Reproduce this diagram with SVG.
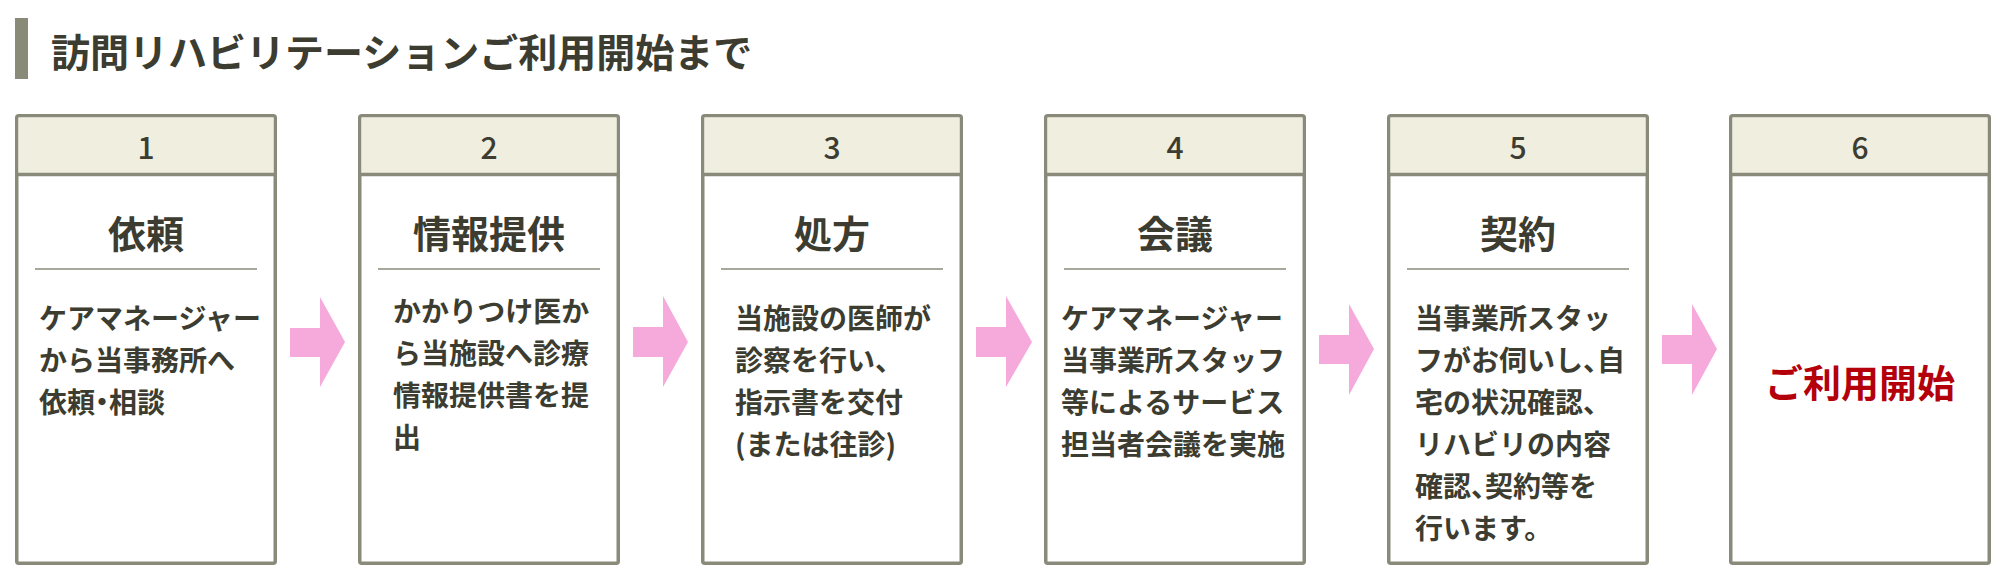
<svg xmlns="http://www.w3.org/2000/svg" width="2003" height="580" viewBox="0 0 2003 580">
<style>
.box{fill:#ffffff;stroke:#8a8a7b;stroke-width:3.5}
.hd{fill:#efeedf}
.hl{stroke:#8a8a7b;stroke-width:3.5}
.sep{stroke:#8a8a7b;stroke-width:1.5}
.num{font-family:"Noto Sans CJK JP","Noto Sans",sans-serif;font-weight:500;font-size:30px;fill:#3c3c30;text-anchor:middle}
.ttl{font-family:"Noto Sans CJK JP",sans-serif;font-weight:700;font-size:38px;fill:#3c3c30;text-anchor:middle}
.body{font-family:"Noto Sans CJK JP",sans-serif;font-weight:700;font-size:28px;fill:#3c3c30}
.red{font-family:"Noto Sans CJK JP",sans-serif;font-weight:700;font-size:38px;fill:#b3000a;text-anchor:middle}
.h{font-feature-settings:"halt"}
.arr{fill:#f6aadc}
</style>
<rect x="0" y="0" width="2003" height="580" fill="#ffffff"/>
<g id="title">
<rect x="15" y="18" width="13" height="61" fill="#8a8a78"/>
<text x="51" y="67" font-family="'Noto Sans CJK JP',sans-serif" font-weight="700" font-size="39" fill="#3c3c30">訪問リハビリテーションご利用開始まで</text>
</g>
<g id="connectors">
<polygon class="arr" points="290,328 320,328 320,297 345,342 320,387 320,357 290,357"/>
<polygon class="arr" points="633,327 663,327 663,296 688,342 663,387 663,357 633,357"/>
<polygon class="arr" points="976,327 1006,327 1006,296 1032,342 1006,387 1006,357 976,357"/>
<polygon class="arr" points="1319,335 1349,335 1349,304 1374,349 1349,395 1349,364 1319,364"/>
<polygon class="arr" points="1662,335 1692,335 1692,304 1717,349 1692,395 1692,364 1662,364"/>
</g>
<g id="node1">
<rect class="box" x="16.75" y="115.75" width="258.5" height="447.5" rx="2"/>
<rect class="hd" x="18.5" y="117.5" width="255" height="56"/>
<line class="hl" x1="16.75" y1="174.5" x2="275.25" y2="174.5"/>
<text class="num" x="146" y="159">1</text>
<text class="ttl" x="146" y="248">依頼</text>
<line class="sep" x1="35" y1="269" x2="257" y2="269"/>
<text class="body" x="39" y="329">ケアマネージャー</text>
<text class="body" x="39" y="371">から当事務所へ</text>
<text class="body" x="39" y="413">依頼<tspan class="h">・</tspan>相談</text>
</g>
<g id="node2">
<rect class="box" x="359.75" y="115.75" width="258.5" height="447.5" rx="2"/>
<rect class="hd" x="361.5" y="117.5" width="255" height="56"/>
<line class="hl" x1="359.75" y1="174.5" x2="618.25" y2="174.5"/>
<text class="num" x="489" y="159">2</text>
<text class="ttl" x="489" y="248">情報提供</text>
<line class="sep" x1="378" y1="269" x2="600" y2="269"/>
<text class="body" x="393" y="322">かかりつけ医か</text>
<text class="body" x="393" y="364">ら当施設へ診療</text>
<text class="body" x="393" y="406">情報提供書を提</text>
<text class="body" x="393" y="448">出</text>
</g>
<g id="node3">
<rect class="box" x="702.75" y="115.75" width="258.5" height="447.5" rx="2"/>
<rect class="hd" x="704.5" y="117.5" width="255" height="56"/>
<line class="hl" x1="702.75" y1="174.5" x2="961.25" y2="174.5"/>
<text class="num" x="832" y="159">3</text>
<text class="ttl" x="832" y="248">処方</text>
<line class="sep" x1="721" y1="269" x2="943" y2="269"/>
<text class="body" x="735" y="329">当施設の医師が</text>
<text class="body" x="735" y="371">診察を行い、</text>
<text class="body" x="735" y="413">指示書を交付</text>
<text class="body" x="735" y="455">(または往診)</text>
</g>
<g id="node4">
<rect class="box" x="1045.75" y="115.75" width="258.5" height="447.5" rx="2"/>
<rect class="hd" x="1047.5" y="117.5" width="255" height="56"/>
<line class="hl" x1="1045.75" y1="174.5" x2="1304.25" y2="174.5"/>
<text class="num" x="1175" y="159">4</text>
<text class="ttl" x="1175" y="248">会議</text>
<line class="sep" x1="1064" y1="269" x2="1286" y2="269"/>
<text class="body" x="1061" y="329">ケアマネージャー</text>
<text class="body" x="1061" y="371">当事業所スタッフ</text>
<text class="body" x="1061" y="413">等によるサービス</text>
<text class="body" x="1061" y="455">担当者会議を実施</text>
</g>
<g id="node5">
<rect class="box" x="1388.75" y="115.75" width="258.5" height="447.5" rx="2"/>
<rect class="hd" x="1390.5" y="117.5" width="255" height="56"/>
<line class="hl" x1="1388.75" y1="174.5" x2="1647.25" y2="174.5"/>
<text class="num" x="1518" y="159">5</text>
<text class="ttl" x="1518" y="248">契約</text>
<line class="sep" x1="1407" y1="269" x2="1629" y2="269"/>
<text class="body" x="1415" y="329">当事業所スタッ</text>
<text class="body" x="1415" y="371">フがお伺いし<tspan class="h">、</tspan>自</text>
<text class="body" x="1415" y="413">宅の状況確認、</text>
<text class="body" x="1415" y="455">リハビリの内容</text>
<text class="body" x="1415" y="497">確認<tspan class="h">、</tspan>契約等を</text>
<text class="body" x="1415" y="539">行います。</text>
</g>
<g id="node6">
<rect class="box" x="1730.75" y="115.75" width="258.5" height="447.5" rx="2"/>
<rect class="hd" x="1732.5" y="117.5" width="255" height="56"/>
<line class="hl" x1="1730.75" y1="174.5" x2="1989.25" y2="174.5"/>
<text class="num" x="1860" y="159">6</text>
<text class="red" x="1860" y="397">ご利用開始</text>
</g>
</svg>
